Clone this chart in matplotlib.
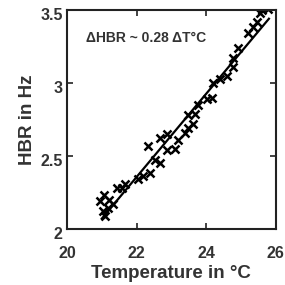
import matplotlib

matplotlib.use("Agg")
import matplotlib.pyplot as plt
import matplotlib.transforms as mtransforms

# measured points (temperature in degC, HBR in Hz)
temp = [20.95, 21.06, 21.18, 21.03, 21.32, 21.09, 21.22, 21.44, 21.58, 21.67,
        22.04, 22.18, 22.38, 22.33, 22.67, 22.87, 22.53, 22.67, 22.87, 23.10,
        23.19, 23.39, 23.47, 23.62, 23.67, 23.47, 23.76, 24.02, 24.16, 24.19,
        24.39, 24.59, 24.77, 24.77, 24.91, 25.20, 25.34, 25.46, 25.54, 25.60,
        25.77]
hbr = [2.19, 2.23, 2.14, 2.12, 2.17, 2.09, 2.20, 2.28, 2.28, 2.31,
       2.34, 2.36, 2.38, 2.57, 2.62, 2.65, 2.47, 2.45, 2.54, 2.55,
       2.61, 2.66, 2.69, 2.72, 2.79, 2.78, 2.85, 2.89, 2.90, 3.00,
       3.03, 3.05, 3.11, 3.17, 3.24, 3.34, 3.38, 3.42, 3.48, 3.50,
       3.51]

# linear fit end points
fit_temp = [21.0, 25.8]
fit_hbr = [2.07, 3.44]

xticks = [20, 22, 24, 26]
yticks = [2, 2.5, 3, 3.5]
yticklabels = ["2", "2.5", "3", "3.5"]

text_color = "#333333"
plt.rcParams["font.family"] = ["Liberation Sans", "DejaVu Sans"]
plt.rcParams["font.weight"] = "bold"

fig = plt.figure(figsize=(2.85, 2.85), dpi=100)
ax = fig.add_axes([0.235, 0.197, 0.733, 0.768])

ax.plot(temp, hbr, linestyle="none", marker="x", color="black",
        markersize=5.5, markeredgewidth=1.8)
ax.plot(fit_temp, fit_hbr, color="black", linewidth=1.6)

ax.text(20.55, 3.31, "ΔHBR ~ 0.28 ΔT°C", fontsize=10, fontweight="bold",
        color=text_color, va="center")

ax.set_xlim(20, 26)
ax.set_ylim(2, 3.5)
ax.set_xticks(xticks)
ax.set_yticks(yticks)
ax.set_yticklabels(yticklabels)
ax.tick_params(direction="in", top=True, right=True, length=4, width=1.2,
               labelsize=11.5, labelcolor=text_color, color="#222222")
ax.tick_params(axis="x", pad=12)
ax.tick_params(axis="y", pad=3)

# labels in the reference sit slightly below their ticks
shift = mtransforms.ScaledTranslation(0, -3 / 72, fig.dpi_scale_trans)
for label in ax.get_yticklabels():
    label.set_transform(label.get_transform() + shift)
for label in ax.get_xticklabels() + ax.get_yticklabels():
    label.set_fontweight("bold")
for spine in ax.spines.values():
    spine.set_linewidth(1.5)
    spine.set_color("#222222")

ax.set_xlabel("Temperature in °C", fontsize=13.5, fontweight="bold",
              color=text_color, labelpad=3)
ax.set_ylabel("HBR in Hz", fontsize=13.5, fontweight="bold",
              color=text_color, labelpad=3)

fig.savefig("out.png", dpi=100)
plt.close(fig)
